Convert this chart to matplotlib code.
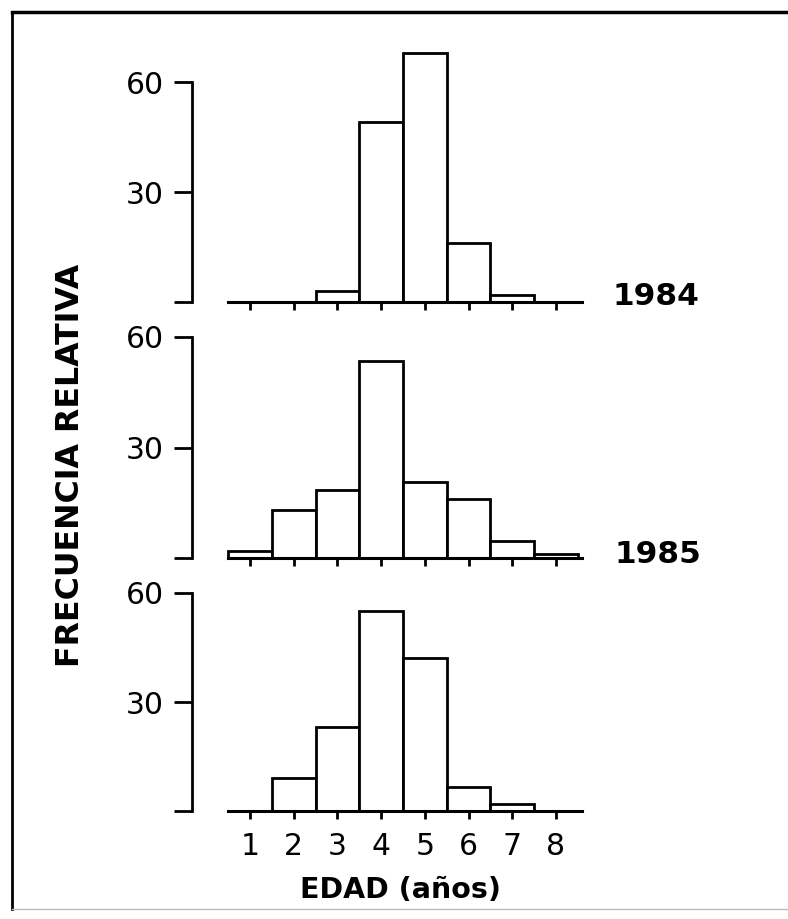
import matplotlib.pyplot as plt
from matplotlib.lines import Line2D

# edad (años) y frecuencia relativa por año de muestreo
edades = [1, 2, 3, 4, 5, 6, 7, 8]
frec_1984 = [0, 0, 3, 49, 68, 16, 2, 0]
frec_1985 = [2, 13, 18.5, 53.5, 20.5, 16, 4.5, 1]
frec_1986 = [0, 9, 23, 55, 42, 6.5, 2, 0]
y_ticks = [0, 30, 60]
y_ticklabels = ["", "30", "60"]
anios = ["1984", "1985"]

W, H = 788, 919
fig = plt.figure(figsize=(W / 100, H / 100), dpi=100)

ax_left = 226 / W
ax_width = 358.4 / W
# (bottom px, top-of-60 px, ymax)
paneles = [(302, 82, 70, frec_1984), (558, 337, 60, frec_1985), (811, 593, 60, frec_1986)]

axes = []
for i, (y0, y60, ymax, frec) in enumerate(paneles):
    escala = (y0 - y60) / 60.0
    alto = ymax * escala
    ax = fig.add_axes([ax_left, 1 - y0 / H, ax_width, alto / H])
    ax.bar(edades, frec, width=1.0, facecolor="white", edgecolor="black", linewidth=2.0)
    ax.set_xlim(0.45, 8.65)
    ax.set_ylim(0, ymax)
    for s in ["top", "right"]:
        ax.spines[s].set_visible(False)
    ax.spines["left"].set_position(("axes", (192 - 226) / 358.4))
    ax.spines["left"].set_bounds(0, 60)
    ax.spines["bottom"].set_bounds(0.5, 8.6)
    ax.spines["left"].set_linewidth(2.0)
    ax.spines["bottom"].set_linewidth(2.2)
    ax.set_yticks(y_ticks)
    ax.set_yticklabels(y_ticklabels)
    ax.set_xticks(edades)
    ax.tick_params(axis="y", direction="out", length=13, width=2.0, pad=7, labelsize=21.5)
    ax.tick_params(axis="x", direction="out", length=6, width=2.0, pad=9, labelsize=21.5)
    if i < 2:
        ax.set_xticklabels([])
    axes.append(ax)

fig.text(613 / W, 1 - 305 / H, anios[0], fontsize=22.5, fontweight="bold", ha="left", va="baseline")
fig.text(615 / W, 1 - 563 / H, anios[1], fontsize=22.5, fontweight="bold", ha="left", va="baseline")
fig.text(401 / W, 1 - 898 / H, "EDAD (años)", fontsize=20.5, fontweight="bold", ha="center", va="baseline")
fig.text(71 / W, 1 - 465 / H, "FRECUENCIA RELATIVA", fontsize=22.8, fontweight="bold",
         rotation=90, ha="center", va="center")

# marco alrededor de la figura
fig.add_artist(Line2D([12 / W, 12 / W], [1 - 12 / H, 1 - 909 / H], color="black", lw=2.0,
                      transform=fig.transFigure))
fig.add_artist(Line2D([12 / W, 1.0], [1 - 12 / H, 1 - 12 / H], color="black", lw=2.5,
                      transform=fig.transFigure))
fig.add_artist(Line2D([12 / W, 1.0], [1 - 909 / H, 1 - 909 / H], color="#bbbbbb", lw=1.0,
                      transform=fig.transFigure))

fig.savefig("out.png", dpi=100)
